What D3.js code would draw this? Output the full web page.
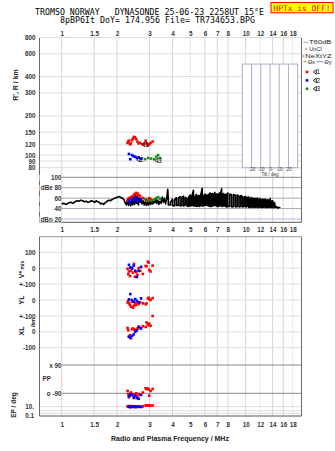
<!DOCTYPE html>
<html><head><meta charset="utf-8">
<script src="https://cdn.jsdelivr.net/npm/d3@7"></script>
<style>
html,body{margin:0;padding:0;background:#fff;}
svg{display:block;}
text{font-family:"Liberation Sans",Arial,sans-serif;}
.mono{font-family:"DejaVu Sans Mono",monospace;white-space:pre;}
</style></head><body>
<svg id="chart" width="335" height="451"></svg>
<script>
// ---------- axes / tick data ----------
const freqTicks = [1, 1.5, 2, 3, 4, 5, 6, 7, 8, 10, 12, 14, 16, 18];
const freqTickLabels = ["1", "1.5", "2", "3", "4", "5", "6", "7", "8", "10", "12", "14", "16", "18"];
const dottedFreqTicks = [5, 12, 18];
const rangeTicks = [800, 600, 400, 300, 200, 150, 120, 100, 90, 80];
const ampTicks = [100, 80, 60, 40, 20];
const ampTickLabels = ["100", "dBe 80", "60", "40", "dBn 20"];
const tiltTicks = [-20, -10, 0, 10, 20];
const tiltTickLabels = ["-20", "-10", "0", "10", "20"];
const vTicks = [100, 0, -100];
const vTickLabels = ["100", "0", "+-100"];
const ylTicks = [0, -100];
const ylTickLabels = ["0", "+-100"];
const xlTicks = [0, -100];
const xlTickLabels = ["0", "-100"];
const ppTicks = [90, -90];
const ppTickLabels = ["x 90", "o -90"];
const epTicks = [10, 0.1];
const epTickLabels = ["10.", "0.1"];
const epGrid = [10, 1, 0.25];

// ---------- echo amplitude, low band (MHz, dB) ----------
const ampFreq = [1.00,1.03,1.06,1.09,1.12,1.15,1.18,1.21,1.24,1.27,1.30,1.33,1.36,1.39,1.42,1.45,1.48,1.51,1.54,1.57,
  1.60,1.63,1.66,1.69,1.72,1.75,1.78,1.81,1.84,1.87,1.90,1.94,1.98,2.02,2.06,2.10,2.14,2.18,2.22,2.25,
  2.28,2.31,2.34,2.37,2.40,2.43,2.46,2.49,2.52,2.55,2.58,2.61,2.64,2.67,2.70,2.73,2.77,2.81,2.85,2.89,
  2.93,2.97,3.01,3.05,3.09,3.13,3.17,3.21,3.25,3.29,3.33,3.37,3.42,3.47,3.52,3.57,3.62,3.67,3.72,3.77];
const ampDb = [49,50,48,51,52,50,53,55,54,56,55,53,54,52,53,55,54,52,55,53,
  52,49,50,48,51,53,55,56,55,57,58,60,61,62,63,61,60,57,50,47,
  58,46,60,45,62,47,64,48,66,50,64,47,60,52,58,49,55,47,53,46,
  52,47,54,48,55,49,58,51,60,50,56,48,54,50,62,52,60,49,58,77];

// ---------- echo amplitude, upper band: per-frequency max / min (MHz, dB) ----------
const bandFreq = [3.8,3.9,4.0,4.1,4.2,4.3,4.4,4.5,4.6,4.7,4.8,4.9,5.0,5.1,5.2,5.3,5.4,5.5,5.6,5.7,
  5.8,5.9,6.0,6.1,6.2,6.3,6.4,6.5,6.6,6.7,6.8,6.9,7.0,7.1,7.2,7.3,7.4,7.5,7.6,7.7,
  7.8,7.9,8.0,8.2,8.4,8.6,8.8,9.0,9.2,9.4,9.6,9.8,10.0,10.2,10.4,10.6,10.8,11.0,11.2,11.4,
  11.6,11.8,12.0,12.2,12.4,12.6,12.8,13.0,13.2,13.4,13.6,13.8,14.0,14.2,14.4,14.6,14.8,15.0,15.3];
const bandHigh = [56,52,58,56,61,60,63,62,64,61,60,62,66,64,75,63,67,64,65,66,
  79,64,68,66,66,67,70,68,69,67,71,68,68,66,70,69,78,67,69,66,
  67,68,70,68,66,67,65,66,64,65,63,62,63,61,62,60,61,59,60,59,
  60,58,59,57,58,57,58,56,57,55,59,54,55,52,50,44,43,42,42];
const bandLow = [47,47,46,45,46,46,45,46,45,47,45,44,45,46,45,45,44,45,44,46,
  45,45,46,47,46,45,44,44,45,46,47,45,44,44,45,46,45,44,45,45,
  44,43,44,44,43,44,43,44,43,44,43,44,43,44,42,43,42,43,42,43,
  42,42,43,42,42,43,42,42,42,42,43,42,42,42,42,43,42,41,41];

// ---------- echoes, mode 1 (red) ----------
const mode1Freq  = [2.28,2.30,2.32,2.35,2.38,2.41,2.44,2.47,2.50,2.54,2.58,2.62,2.67,2.76,2.86,2.89,2.94,2.97,2.99,3.04,3.12];
const mode1Range = [124,127,129,121,123,130,134,138,137,133,127,123,124,121,129,123,119,121,121,124,127];
const mode1Amp   = [55,58,60,56,62,60,64,66,68,70,69,66,64,60,58,56,55,57,60,58,56];
const mode1Vs    = [-4,-38,-21,-50,-17,-4,-29,27,-54,-25,-42,0,-17,-37,14,12,41,35,-11,-21,16];
const mode1YL    = [-15,-6,-21,-31,-42,-10,-48,-36,-21,-31,-15,-25,-15,-21,-27,-21,10,14,5,0,12];
const mode1XL    = [25,10,-31,-21,-41,17,21,17,10,11,21,31,25,35,31,59,46,42,52,38,100];
const mode1PP    = [-75,-95,-115,-105,-85,-100,-95,-120,-100,-90,-110,-95,-100,-85,-58,-63,-60,-65,-105,-75,-62];
const mode1EP    = [12,9,15,10,8,14,12,10,8,13,10,11,9,12,20,18,22,19,21,18,20];

// ---------- echoes, mode 2 (blue) ----------
const mode2Freq  = [2.32,2.36,2.41,2.46,2.51,2.56,2.62,2.70];
const mode2Range = [102,93,100,98,97,95,96,94];
const mode2Amp   = [55,52,58,56,60,57,54,58];
const mode2Vs    = [21,4,0,16,-17,-56,-17,8];
const mode2YL    = [4,37,0,-10,6,-6,-15,10];
const mode2XL    = [-31,-35,-25,-17,0,10,31,21];
const mode2PP    = [-110,-95,-100,-115,-105,-120,-125,-100];
const mode2EP    = [10,8,12,9,11,8,10,9];

// ---------- echoes, mode 3 (green) ----------
const mode3Freq  = [2.84,2.95,3.06,3.18,3.27,3.34,3.42];
const mode3Range = [93,95,94,93,97,100,95];
const mode3Amp   = [58,56,55,57,60,62,59];

// mode tags on the range plot
const modeNames = ["1", "2", "3"];
const modeColors = ["#ff0000", "#0000ff", "#1a8a1a"];
const modeTagFreq = [2.72, 2.56, 3.21];
const modeTagRange = [121, 92, 91];

// ---------- scales ----------
const plotL = 39.5, plotR = 301.5;
const topY0 = 38, topY1 = 222.3, lowY0 = 236.7, lowY1 = 416;

const x = d3.scaleLog().domain([1, 10]).range([61.7, 245.7]);
const yR = d3.scaleLog().domain([800, 80]).range([37.5, 167.7]);
const yA = d3.scaleLinear().domain([100, 20]).range([177.3, 219]);
const yV = d3.scaleLinear().domain([100, -100]).range([252.3, 284]);
const yYL = d3.scaleLinear().domain([100, -100]).range([284, 316]);
const yXL = d3.scaleLinear().domain([100, -100]).range([316, 347.7]);
const yPP = d3.scaleLinear().domain([90, -90]).range([365, 393.3]);
const yEP = d3.scaleLog().domain([10, 0.1]).range([406.7, 415]);
const xTilt = d3.scaleLinear().domain([-30, 30]).range([242.3, 297.7]);

const svg = d3.select("#chart");
svg.append("rect").attr("width", 335).attr("height", 451).attr("fill", "#fff");

// ---------- header ----------
svg.append("text").attr("class", "mono").attr("x", 35).attr("y", 15)
  .attr("font-size", 8).attr("fill", "#000")
  .attr("textLength", 229).attr("lengthAdjust", "spacingAndGlyphs")
  .text("TROMSO NORWAY   DYNASONDE 25-06-23 2258UT 15°E");
svg.append("text").attr("class", "mono").attr("x", 60).attr("y", 22.7)
  .attr("font-size", 8).attr("fill", "#000")
  .attr("textLength", 195).attr("lengthAdjust", "spacingAndGlyphs")
  .text("8pBP6It DoY= 174.956 File= TR734653.BPG");
svg.append("rect").attr("x", 271).attr("y", 2.5).attr("width", 62).attr("height", 10.3)
  .attr("fill", "#ffff00").attr("stroke", "#ff0000").attr("stroke-width", 1);
svg.append("text").attr("class", "mono").attr("x", 273.5).attr("y", 10.5)
  .attr("font-size", 7.6).attr("fill", "#ff0000")
  .attr("textLength", 57).attr("lengthAdjust", "spacingAndGlyphs")
  .text("HPTx is OFF!");

// ---------- grids ----------
const grid = svg.append("g");
function vGrid(y0, y1) {
  grid.selectAll(null).data(freqTicks).enter().append("line")
    .attr("x1", d => x(d)).attr("x2", d => x(d)).attr("y1", y0).attr("y2", y1)
    .attr("stroke", d => dottedFreqTicks.includes(d) ? "#d8cfe0" : "#d6d6d6")
    .attr("stroke-dasharray", d => dottedFreqTicks.includes(d) ? "1,1" : null)
    .attr("stroke-width", 1);
}
vGrid(topY0, topY1);
vGrid(lowY0, lowY1);

grid.selectAll(null).data(rangeTicks).enter().append("line")
  .attr("x1", plotL).attr("x2", plotR).attr("y1", d => yR(d)).attr("y2", d => yR(d))
  .attr("stroke", "#dcdcdc");

grid.selectAll(null).data(ampTicks).enter().append("line")
  .attr("x1", x(1)).attr("x2", plotR).attr("y1", d => yA(d)).attr("y2", d => yA(d))
  .attr("stroke", d => d === 20 ? "#b4b4e6" : (d === 100 ? "#8a8a8a" : "#a8a8a8"));

// lower panel horizontal grid
const lowGrid = [yV(100), yV(0), yV(-100), yYL(0), yYL(-100), yXL(0), yXL(-100)];
grid.selectAll(null).data(lowGrid).enter().append("line")
  .attr("x1", plotL).attr("x2", plotR).attr("y1", d => d).attr("y2", d => d)
  .attr("stroke", "#dcdcdc");
grid.selectAll(null).data(ppTicks).enter().append("line")
  .attr("x1", x(1)).attr("x2", plotR).attr("y1", d => yPP(d)).attr("y2", d => yPP(d))
  .attr("stroke", "#8a8a8a");
grid.selectAll(null).data(epGrid).enter().append("line")
  .attr("x1", plotL).attr("x2", plotR).attr("y1", d => yEP(d)).attr("y2", d => yEP(d))
  .attr("stroke", "#dcdcdc");

// ---------- frames ----------
const frame = svg.append("g").attr("stroke", "#6a6a6a").attr("stroke-width", 1);
frame.append("line").attr("x1", plotL).attr("x2", plotL).attr("y1", topY0).attr("y2", topY1);
frame.append("line").attr("x1", plotR).attr("x2", plotR).attr("y1", topY0).attr("y2", topY1);
frame.append("line").attr("x1", plotL).attr("x2", plotR).attr("y1", topY1).attr("y2", topY1).attr("stroke", "#555");
frame.append("line").attr("x1", plotL).attr("x2", plotL).attr("y1", lowY0).attr("y2", lowY1);
frame.append("line").attr("x1", plotR).attr("x2", plotR).attr("y1", lowY0).attr("y2", lowY1);
frame.append("line").attr("x1", plotL).attr("x2", plotR).attr("y1", lowY0).attr("y2", lowY0).attr("stroke", "#9a9a9a");
frame.append("line").attr("x1", plotL).attr("x2", plotR).attr("y1", lowY1).attr("y2", lowY1).attr("stroke", "#555");

// ---------- tilt box ----------
const tilt = svg.append("g").attr("stroke", "#aab0cc").attr("fill", "none");
tilt.append("rect").attr("x", xTilt(-30)).attr("y", yR(500))
  .attr("width", xTilt(30) - xTilt(-30)).attr("height", yR(80) - yR(500)).attr("fill", "#fff");
tilt.selectAll(null).data(tiltTicks).enter().append("line")
  .attr("x1", d => xTilt(d)).attr("x2", d => xTilt(d)).attr("y1", yR(500)).attr("y2", yR(80));
const tiltAxis = svg.append("g").attr("transform", `translate(0,${yR(80) + 3.6})`)
  .call(d3.axisBottom(xTilt).tickValues(tiltTicks).tickFormat((d, i) => tiltTickLabels[i]).tickSize(0).tickPadding(0));
tiltAxis.select(".domain").remove();
tiltAxis.selectAll("text").attr("dy", 0).attr("y", 0).attr("font-size", 4.5).attr("fill", "#333")
  .attr("font-family", "Liberation Sans, Arial, sans-serif");
svg.append("text").attr("x", xTilt(0)).attr("y", yR(80) + 7.8).attr("text-anchor", "middle")
  .attr("font-size", 4.5).attr("fill", "#333").text("Tilt / deg");

// ---------- axes ----------
function freqAxis(yBase) {
  const g = svg.append("g").attr("transform", `translate(0,${yBase})`)
    .call(d3.axisTop(x).tickValues(freqTicks).tickFormat((d, i) => freqTickLabels[i]).tickSize(0).tickPadding(0));
  g.select(".domain").remove();
  g.selectAll("text").attr("font-size", 6.3).attr("font-weight", "bold").attr("fill", "#333")
    .attr("font-family", "Liberation Sans, Arial, sans-serif");
}
freqAxis(36);
freqAxis(231.6);
freqAxis(427);

function leftAxis(scale, ticks, labels, xPos) {
  const g = svg.append("g").attr("transform", `translate(${xPos},0)`)
    .call(d3.axisLeft(scale).tickValues(ticks).tickFormat((d, i) => labels[i]).tickSize(0).tickPadding(0));
  g.select(".domain").remove();
  g.selectAll("text").attr("font-size", 6.3).attr("font-weight", "bold").attr("fill", "#333")
    .attr("font-family", "Liberation Sans, Arial, sans-serif");
  return g;
}
leftAxis(yR, rangeTicks, rangeTicks.map(String), 35.5);
const ampAxis = leftAxis(yA, ampTicks, ampTickLabels, 61.5);
ampAxis.selectAll(".tick").insert("rect", "text")
  .attr("x", -22).attr("y", -3).attr("width", 22).attr("height", 6).attr("fill", "#fff");
leftAxis(yV, vTicks, vTickLabels, 35.5);
leftAxis(yYL, ylTicks, ylTickLabels, 35.5);
leftAxis(yXL, xlTicks, xlTickLabels, 35.5);
const ppAxis = leftAxis(yPP, ppTicks, ppTickLabels, 61.5);
ppAxis.selectAll(".tick").insert("rect", "text")
  .attr("x", -17).attr("y", -3).attr("width", 17).attr("height", 6).attr("fill", "#fff");
leftAxis(yEP, epTicks, epTickLabels, 34);
svg.append("text").attr("x", 42.5).attr("y", yPP(0) + 2.3).attr("font-size", 6.3)
  .attr("font-weight", "bold").attr("fill", "#333").text("PP");

// axis titles
function vLabel(xPos, yPos, str, size, extra) {
  const t = svg.append("text").attr("transform", `translate(${xPos},${yPos}) rotate(-90)`)
    .attr("text-anchor", "middle").attr("font-size", size).attr("font-weight", "bold").attr("fill", "#222");
  t.append("tspan").text(str);
  if (extra) t.append("tspan").attr("font-size", size * 0.72).attr("dx", 1.5).text(extra);
  return t;
}
vLabel(17.5, 85, "R', R / km", 7);
vLabel(24, 269.5, "V*", 7, "m/s");
vLabel(24, 300, "YL", 7);
vLabel(34.5, 322.5, "/km", 5.3);
vLabel(24, 331, "XL", 7);
vLabel(15.5, 405, "EP / deg", 6.5);
svg.append("text").attr("x", 170).attr("y", 441).attr("text-anchor", "middle")
  .attr("font-size", 7).attr("font-weight", "bold").attr("fill", "#222")
  .text("Radio and Plasma Frequency / MHz");

// ---------- amplitude trace ----------
const ampPts = ampFreq.map((f, i) => [f, ampDb[i]]);
// upper band drawn as alternating vertical strokes between min and max
const bandPts = [];
bandFreq.forEach((f, i) => {
  if (i % 2 === 0) { bandPts.push([f, bandHigh[i]], [f, bandLow[i]]); }
  else { bandPts.push([f, bandLow[i]], [f, bandHigh[i]]); }
});
const ampLine = d3.line().x(d => x(d[0])).y(d => yA(d[1]));
svg.append("path").datum(ampPts.concat(bandPts))
  .attr("d", ampLine)
  .attr("fill", "none").attr("stroke", "#000").attr("stroke-width", 1.6).attr("stroke-linejoin", "round");

// ---------- echoes ----------
const sq = 2.6;
function dots(freqs, vals, scale, color) {
  svg.append("g").selectAll("rect").data(freqs.map((f, i) => [f, vals[i]])).enter().append("rect")
    .attr("x", d => x(d[0]) - sq / 2).attr("y", d => scale(d[1]) - sq / 2)
    .attr("width", sq).attr("height", sq).attr("fill", color);
}
const modes = [
  {f: mode1Freq, r: mode1Range, a: mode1Amp, v: mode1Vs, yl: mode1YL, xl: mode1XL, pp: mode1PP, ep: mode1EP},
  {f: mode2Freq, r: mode2Range, a: mode2Amp, v: mode2Vs, yl: mode2YL, xl: mode2XL, pp: mode2PP, ep: mode2EP},
  {f: mode3Freq, r: mode3Range, a: mode3Amp}
];
modes.forEach((m, i) => {
  const c = modeColors[i];
  dots(m.f, m.r, yR, c);
  dots(m.f, m.a, yA, c);
  if (m.v) {
    dots(m.f, m.v, yV, c);
    dots(m.f, m.yl, yYL, c);
    dots(m.f, m.xl, yXL, c);
    dots(m.f, m.pp, yPP, c);
    dots(m.f, m.ep, yEP, c);
  }
});

// mode tags
function tag(g, px, py, name, size) {
  g.append("path").attr("d", `M${px},${py} L${px + 3},${py - 2.2} L${px + 3},${py + 2.2} Z`)
    .attr("fill", "none").attr("stroke", "#000").attr("stroke-width", 0.8);
  g.append("text").attr("x", px + 3.3).attr("y", py + 2.2).attr("font-size", size).attr("fill", "#000").text(name);
}
const tags = svg.append("g");
modeNames.forEach((n, i) => tag(tags, x(modeTagFreq[i]), yR(modeTagRange[i]), n, 6.3));

// ---------- legend ----------
const lg = svg.append("g").attr("font-size", 5.8).attr("fill", "#222");
lg.append("line").attr("x1", 303.3).attr("x2", 308.3).attr("y1", 42.3).attr("y2", 42.3).attr("stroke", "#aaa");
lg.append("text").attr("x", 309.3).attr("y", 44.3)
  .attr("textLength", 22).attr("lengthAdjust", "spacingAndGlyphs").text("T60dB");
lg.append("rect").attr("x", 305.5).attr("y", 48.5).attr("width", 1).attr("height", 1).attr("fill", "#000");
lg.append("text").attr("x", 309.3).attr("y", 51.1)
  .attr("textLength", 12.4).attr("lengthAdjust", "spacingAndGlyphs").text("UnCl");
lg.append("path").attr("d", "M301.8,56 h3 M303.3,54.5 v3").attr("stroke", "#f090b0").attr("fill", "none");
lg.append("text").attr("x", 305.3).attr("y", 58.2)
  .attr("textLength", 26.4).attr("lengthAdjust", "spacingAndGlyphs").text("NeXtYZ");
lg.append("line").attr("x1", 303.3).attr("x2", 306.7).attr("y1", 61.7).attr("y2", 61.7).attr("stroke", "#f07070");
lg.append("text").attr("x", 307.7).attr("y", 63.7)
  .attr("textLength", 7.3).attr("lengthAdjust", "spacingAndGlyphs").text("Θx");
lg.append("line").attr("x1", 316.7).attr("x2", 323.3).attr("y1", 61.7).attr("y2", 61.7).attr("stroke", "#8080f0");
lg.append("text").attr("x", 324.3).attr("y", 63.7)
  .attr("textLength", 7.3).attr("lengthAdjust", "spacingAndGlyphs").text("Θy");
modeNames.forEach((n, i) => {
  const yy = 72 + i * 8.4;
  lg.append("rect").attr("x", 305.7).attr("y", yy - 1.3).attr("width", 2.6).attr("height", 2.6).attr("fill", modeColors[i]);
  tag(lg, 313.3, yy, n, 6.3);
});
</script>
</body></html>
